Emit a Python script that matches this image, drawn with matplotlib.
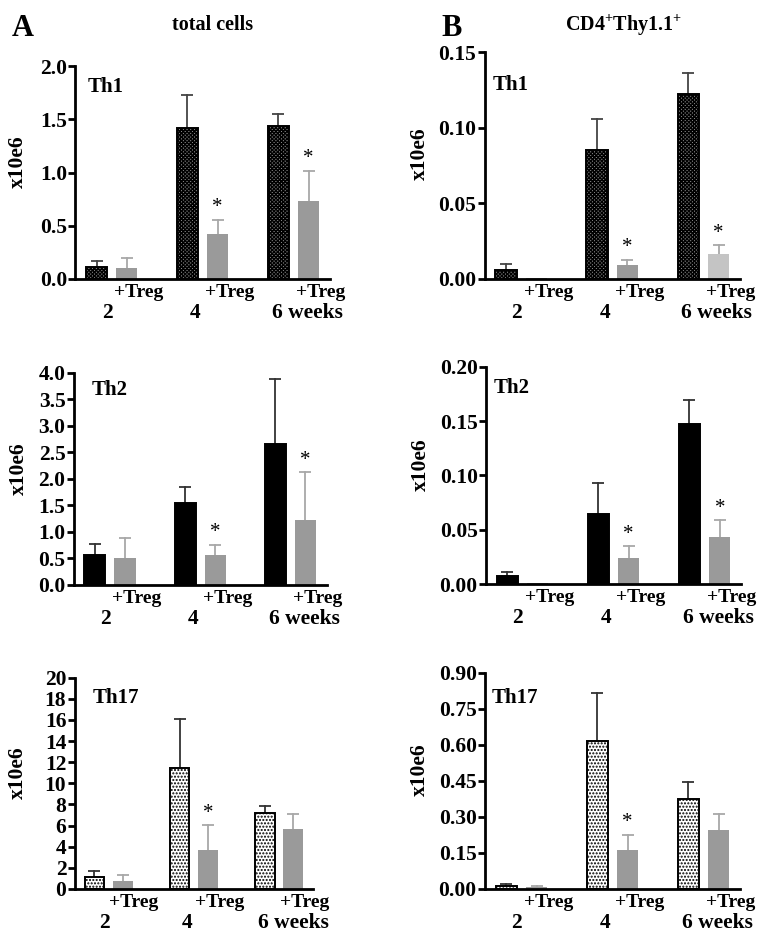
import matplotlib
matplotlib.use("Agg")
import matplotlib.pyplot as plt
import numpy as np

plt.rcParams['font.family'] = ['Liberation Serif', 'DejaVu Serif']
plt.rcParams['font.weight'] = 'bold'
plt.rcParams['mathtext.fontset'] = 'custom'
plt.rcParams['mathtext.rm'] = 'Liberation Serif:bold'
plt.rcParams['mathtext.bf'] = 'Liberation Serif:bold'
plt.rcParams['hatch.linewidth'] = 1.0

# bar order: 2, 2+Treg, 4, 4+Treg, 6, 6+Treg
positions = [0, 1, 3, 4, 6, 7]
week_labels = ["2", "4", "6 weeks"]

# total cells
a_th1_mean = [0.116, 0.10, 1.42, 0.42, 1.437, 0.732]
a_th1_err = [0.056, 0.094, 0.31, 0.134, 0.11, 0.285]
a_th2_mean = [0.559, 0.509, 1.538, 0.559, 2.65, 1.224]
a_th2_err = [0.207, 0.383, 0.30, 0.195, 1.237, 0.896]
a_th17_mean = [1.13, 0.79, 11.5, 3.72, 7.24, 5.67]
a_th17_err = [0.60, 0.50, 4.56, 2.30, 0.60, 1.42]

# CD4+Thy1.1+
b_th1_mean = [0.0057, 0.0007, 0.085, 0.009, 0.1222, 0.0165]
b_th1_err = [0.0042, 0.0, 0.021, 0.0036, 0.0138, 0.0057]
b_th2_mean = [0.0077, 0.001, 0.0644, 0.0239, 0.1475, 0.0429]
b_th2_err = [0.0033, 0.0, 0.0289, 0.0108, 0.0215, 0.0157]
b_th17_mean = [0.0138, 0.008, 0.616, 0.161, 0.375, 0.2465]
b_th17_err = [0.005, 0.003, 0.201, 0.063, 0.07, 0.0665]

W, H = 769, 944
fig = plt.figure(figsize=(W / 100, H / 100), dpi=100)


def rect(left, right, top, bottom):
    return [left / W, 1 - bottom / H, (right - left) / W, (bottom - top) / H]


STYLES = {
    "Th1": dict(color="#8a8a8a", hatch="xxxxxxxxx", edgecolor="black", err="#444444"),
    "Th2": dict(color="black", hatch=None, edgecolor="black", err="#333333"),
    "Th17": dict(color="white", hatch=".....", edgecolor="black", err="#333333"),
}


def panel(r, means, errs, name, ylim, yticks, fmt, stars, name_xy,
          ylab_x, treg_colors=None):
    ax = fig.add_axes(r)
    st = STYLES[name]
    if treg_colors is None:
        treg_colors = ["#9a9a9a"] * 3
    for i, (p, m, e) in enumerate(zip(positions, means, errs)):
        if i % 2 == 0:
            ax.bar(p, m, 0.7, color=st["color"], hatch=st["hatch"],
                   edgecolor=st["edgecolor"], linewidth=1.4, zorder=2)
            ecol = st["err"]
        else:
            ax.bar(p, m, 0.7, color=treg_colors[i // 2], linewidth=0, zorder=2)
            ecol = "#a8a8a8"
        if e > 0:
            # upper half of the error bar only
            ax.plot([p, p], [m, m + e], color=ecol, lw=1.3, zorder=1)
            ax.plot([p], [m + e], marker="_", markersize=8, mew=1.3,
                    color=ecol, zorder=1)
        if i in stars:
            ax.annotate("*", xy=(p, m + e), xytext=(0, 2),
                        textcoords="offset points", ha="center", va="bottom",
                        fontsize=15, fontweight="normal")
    ax.set_xlim(-0.7, 7.7)
    ax.set_ylim(*ylim)
    ax.set_yticks(yticks)
    ax.set_yticklabels([fmt.format(t) for t in yticks])
    ax.set_xticks([])
    for s in ["top", "right"]:
        ax.spines[s].set_visible(False)
    for s in ["left", "bottom"]:
        ax.spines[s].set_linewidth(2)
        ax.spines[s].set_zorder(3)
    ax.tick_params(axis="y", width=2, length=5, labelsize=15.5, pad=1)
    ax.text(name_xy[0], name_xy[1], name, transform=ax.transAxes,
            fontsize=15, fontweight="bold", va="center", ha="left")
    ax.set_ylabel("x10e6", fontsize=15.5, fontweight="bold")
    ax.yaxis.set_label_coords(ylab_x, 0.55)
    for k in range(3):
        ax.annotate("+Treg", xy=(positions[2 * k + 1] + 0.4, 0),
                    xycoords=("data", "axes fraction"), xytext=(0, -10),
                    textcoords="offset points", ha="center", va="center",
                    fontsize=14, fontweight="bold")
    xs = [0.35, 3.25, 5.78]
    has = ["center", "center", "left"]
    for x, lab, ha in zip(xs, week_labels, has):
        ax.annotate(lab, xy=(x, 0), xycoords=("data", "axes fraction"),
                    xytext=(0, -24.5), textcoords="offset points", ha=ha,
                    va="center", fontsize=15.5, fontweight="bold")
    return ax


panel(rect(75.3, 329.7, 66, 279), a_th1_mean, a_th1_err, "Th1", (0, 2.0),
      [0, 0.5, 1.0, 1.5, 2.0], "{:.1f}", [3, 5], (0.05, 0.9), -0.185)
panel(rect(73.9, 326.5, 372.7, 585), a_th2_mean, a_th2_err, "Th2", (0, 4.0),
      np.arange(0, 4.01, 0.5), "{:.1f}", [3, 5], (0.07, 0.92), -0.18)
panel(rect(74.6, 312.9, 677.7, 889), a_th17_mean, a_th17_err, "Th17", (0, 20),
      np.arange(0, 21, 2), "{:.0f}", [3], (0.076, 0.905), -0.195)

panel(rect(484.7, 739.8, 52, 279), b_th1_mean, b_th1_err, "Th1", (0, 0.15),
      [0, 0.05, 0.10, 0.15], "{:.2f}", [3, 5], (0.03, 0.855), -0.215,
      treg_colors=["#9a9a9a", "#9a9a9a", "#c4c4c4"])
panel(rect(486, 741, 366.7, 584), b_th2_mean, b_th2_err, "Th2", (0, 0.20),
      [0, 0.05, 0.10, 0.15, 0.20], "{:.2f}", [3, 5], (0.03, 0.9), -0.215)
panel(rect(485, 740, 672.7, 889), b_th17_mean, b_th17_err, "Th17", (0, 0.90),
      [0, 0.15, 0.30, 0.45, 0.60, 0.75, 0.90], "{:.2f}", [3], (0.027, 0.884),
      -0.215)

fig.text(12 / W, 1 - 28 / H, "A", fontsize=22, fontweight="bold", va="center")
fig.text(213 / W, 1 - 25 / H, "total cells", fontsize=14.5, fontweight="bold",
         ha="center", va="center")
fig.text(441 / W, 1 - 28 / H, "B", fontsize=22, fontweight="bold", va="center")
fig.text(624 / W, 1 - 25 / H, r"CD4$^{\mathbf{+}}$Thy1.1$^{\mathbf{+}}$",
         fontsize=14.5, fontweight="bold", ha="center", va="center")

fig.savefig("out.png", dpi=100)
